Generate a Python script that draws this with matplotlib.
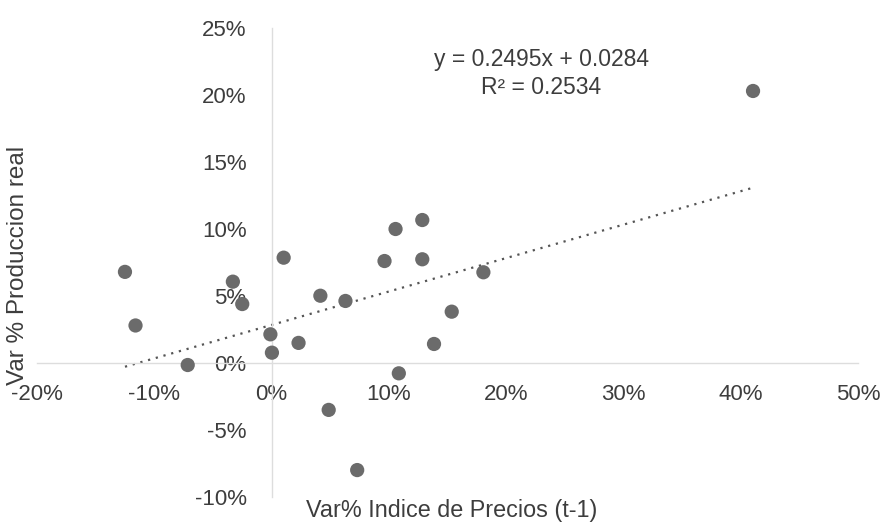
import numpy as np
import matplotlib
matplotlib.use('Agg')
import matplotlib.pyplot as plt
from matplotlib.ticker import PercentFormatter

# DATA (fractions)
var_precios = [-0.125, -0.116, -0.0715, -0.033, -0.025, 0.0103, -0.001, 0.0003,
               0.023, 0.0416, 0.063, 0.0487, 0.073, 0.0963, 0.1057, 0.1085,
               0.1285, 0.1285, 0.1385, 0.1536, 0.1806, 0.4105]
var_produccion = [0.068, 0.028, -0.0015, 0.0607, 0.044, 0.0786, 0.0214, 0.0077,
                  0.015, 0.0502, 0.0463, -0.035, -0.0799, 0.0761, 0.100, -0.0077,
                  0.1067, 0.0774, 0.0142, 0.0383, 0.0677, 0.203]

slope = 0.2495
intercept = 0.0284
r2 = 0.2534

x_ticks = [-0.2, -0.1, 0.0, 0.1, 0.2, 0.3, 0.4, 0.5]
y_ticks = [-0.10, -0.05, 0.0, 0.05, 0.10, 0.15, 0.20, 0.25]


def main():

    plt.rcParams['font.family'] = ['Liberation Sans', 'DejaVu Sans']
    plt.rcParams['axes.unicode_minus'] = False
    txt_col = '#3d3d3d'

    fig = plt.figure(figsize=(8.85, 5.24), dpi=100)
    ax = fig.add_axes([37/885, 1 - 497/524, (858 - 37)/885, (497 - 28)/524])

    ax.scatter(var_precios, var_produccion, s=105, color='#6b6b6b', edgecolors='none', zorder=3)

    # trend line
    xl = np.array([min(var_precios), max(var_precios)])
    ax.plot(xl, slope*xl + intercept, linestyle=(0, (1, 2.6)), color='#555555', linewidth=1.6, zorder=2)

    ax.set_xlim(x_ticks[0], x_ticks[-1])
    ax.set_ylim(y_ticks[0], y_ticks[-1])
    ax.set_xticks(x_ticks)
    ax.set_yticks(y_ticks)
    ax.xaxis.set_major_formatter(PercentFormatter(1.0, decimals=0))
    ax.yaxis.set_major_formatter(PercentFormatter(1.0, decimals=0))

    for s in ['top', 'right']:
        ax.spines[s].set_visible(False)
    ax.spines['left'].set_position(('data', 0))
    ax.spines['bottom'].set_position(('data', 0))
    for s in ['left', 'bottom']:
        ax.spines[s].set_color('#dddddd')
        ax.spines[s].set_linewidth(1.0)

    ax.tick_params(axis='both', length=0, labelsize=16, labelcolor=txt_col)
    ax.tick_params(axis='x', pad=15)
    ax.tick_params(axis='y', pad=18)

    ax.text(0.23, 0.216, f"y = {slope}x + {intercept}\nR² = {r2}", ha='center', va='center',
            fontsize=16.5, color=txt_col, linespacing=1.3)

    fig.text(18/885, 1 - 265/524, "Var % Produccion real", rotation=90, ha='center', va='center',
             fontsize=17.5, color=txt_col)
    fig.text(452/885, 1 - 511/524, "Var% Indice de Precios (t-1)", ha='center', va='center',
             fontsize=16.8, color=txt_col)

    plt.savefig("out.png", dpi=100)
    plt.close()


if __name__ == "__main__":
    main()
